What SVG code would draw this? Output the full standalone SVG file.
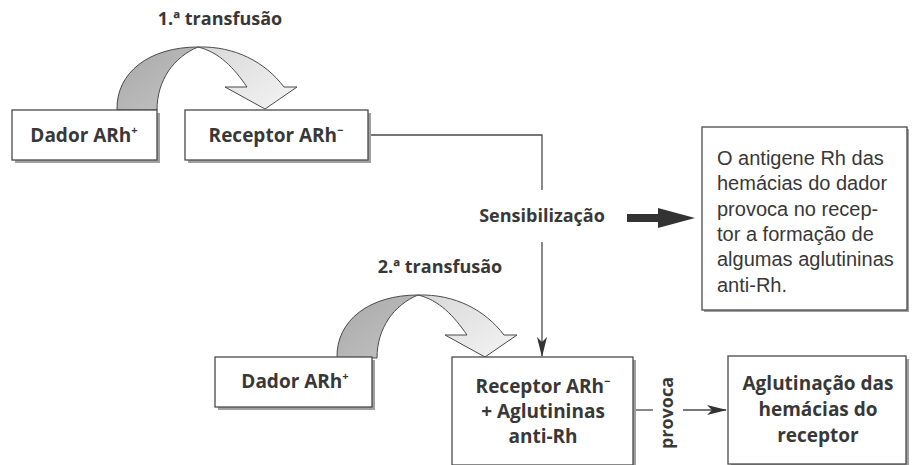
<svg xmlns="http://www.w3.org/2000/svg" width="912" height="465" viewBox="0 0 912 465">
<style>
.bx{fill:#fff;stroke:#4a4a4a;stroke-width:1.3}
.sh{fill:#a0a0a0}
.lb{font-family:"Open Sans","Liberation Sans",sans-serif;font-weight:700;fill:#383838}
.rg{font-family:"Liberation Sans",Arial,sans-serif;font-weight:400;fill:#383838;font-size:20px}
.ln{fill:none;stroke:#4a4a4a;stroke-width:1.3}
.ar1{fill:url(#gd);stroke:#4a4a4a;stroke-width:1}
.ar2{fill:url(#gl);stroke:#4a4a4a;stroke-width:1}
</style>
<defs>
<linearGradient id="gd" x1="0" y1="0" x2="1" y2="1">
<stop offset="0" stop-color="#a8a8a8"/><stop offset="1" stop-color="#c4c4c4"/>
</linearGradient>
<linearGradient id="gl" x1="0" y1="0" x2="1" y2="1">
<stop offset="0" stop-color="#d8d8d8"/><stop offset="1" stop-color="#f4f4f4"/>
</linearGradient>
<marker id="ah" viewBox="0 0 20 10" refX="19" refY="5" markerWidth="20" markerHeight="10" markerUnits="userSpaceOnUse" orient="auto">
<path d="M0,0 L20,5 L0,10 L5,5 Z" fill="#333"/>
</marker>
<g id="curve">
<path class="ar1" d="M117,110 C116,72 150,47 198,47 C174,57 157,80 157,110 Z"/>
<path class="ar2" d="M198,47 C235,46 265,62 284,87 L297,87 L265,109 L225,87 L247,87 C234,68 219,52 198,47 Z"/>
</g>
</defs>

<g id="connectors">
<use href="#curve"/>
<use href="#curve" transform="translate(220,248)"/>
<path class="ln" d="M368,135 H542 V190"/>
<path class="ln" d="M542,242 V356" marker-end="url(#ah)"/>
<path class="ln" d="M633,410 H653"/>
<path class="ln" d="M683,410 H726" marker-end="url(#ah)"/>
<path d="M627,214 H658 V208 L695,218 L658,228 V222 H627 Z" fill="#333"/>
</g>

<g id="title1"><text class="lb" x="220" y="25" font-size="18" text-anchor="middle">1.ª transfusão</text></g>
<g id="title2"><text class="lb" x="440" y="273" font-size="18" text-anchor="middle">2.ª transfusão</text></g>

<g id="dador1">
<rect class="sh" x="15" y="113" width="145" height="50"/>
<rect class="bx" x="12" y="110" width="145" height="50"/>
<text class="lb" x="84" y="142" font-size="19" text-anchor="middle">Dador ARh<tspan font-size="11" dy="-8">+</tspan></text>
</g>

<g id="receptor1">
<rect class="sh" x="188" y="113" width="183" height="50"/>
<rect class="bx" x="185" y="110" width="183" height="50"/>
<text class="lb" x="276" y="142" font-size="19" text-anchor="middle">Receptor ARh<tspan font-size="11" dy="-8">−</tspan></text>
</g>

<g id="sensib"><text class="lb" x="542" y="222" font-size="18" text-anchor="middle">Sensibilização</text></g>

<g id="info">
<rect class="sh" x="704" y="129" width="205" height="183"/>
<rect class="bx" x="702" y="127" width="205" height="183"/>
<text class="rg" x="717" y="165">O antigene Rh das</text>
<text class="rg" x="717" y="190">hemácias do dador</text>
<text class="rg" x="717" y="216">provoca no recep-</text>
<text class="rg" x="717" y="241">tor a formação de</text>
<text class="rg" x="717" y="266">algumas aglutininas</text>
<text class="rg" x="717" y="292">anti-Rh.</text>
</g>

<g id="dador2">
<rect class="sh" x="218" y="360" width="157" height="50"/>
<rect class="bx" x="215" y="357" width="157" height="50"/>
<text class="lb" x="295" y="388" font-size="19" text-anchor="middle">Dador ARh<tspan font-size="11" dy="-8">+</tspan></text>
</g>

<g id="receptor2">
<rect class="sh" x="455" y="360" width="181" height="108"/>
<rect class="bx" x="452" y="357" width="181" height="108"/>
<text class="lb" x="543" y="393" font-size="19" text-anchor="middle">Receptor ARh<tspan font-size="11" dy="-8">−</tspan></text>
<text class="lb" x="543" y="418" font-size="19" text-anchor="middle">+ Aglutininas</text>
<text class="lb" x="543" y="443" font-size="19" text-anchor="middle">anti-Rh</text>
</g>

<g id="provoca"><text class="lb" transform="translate(673,413) rotate(-90)" font-size="18" text-anchor="middle">provoca</text></g>

<g id="aglutinacao">
<rect class="sh" x="731" y="359" width="178" height="108"/>
<rect class="bx" x="728" y="356" width="178" height="108"/>
<text class="lb" x="818" y="390" font-size="19" text-anchor="middle">Aglutinação das</text>
<text class="lb" x="818" y="416" font-size="19" text-anchor="middle">hemácias do</text>
<text class="lb" x="818" y="442" font-size="19" text-anchor="middle">receptor</text>
</g>
</svg>
